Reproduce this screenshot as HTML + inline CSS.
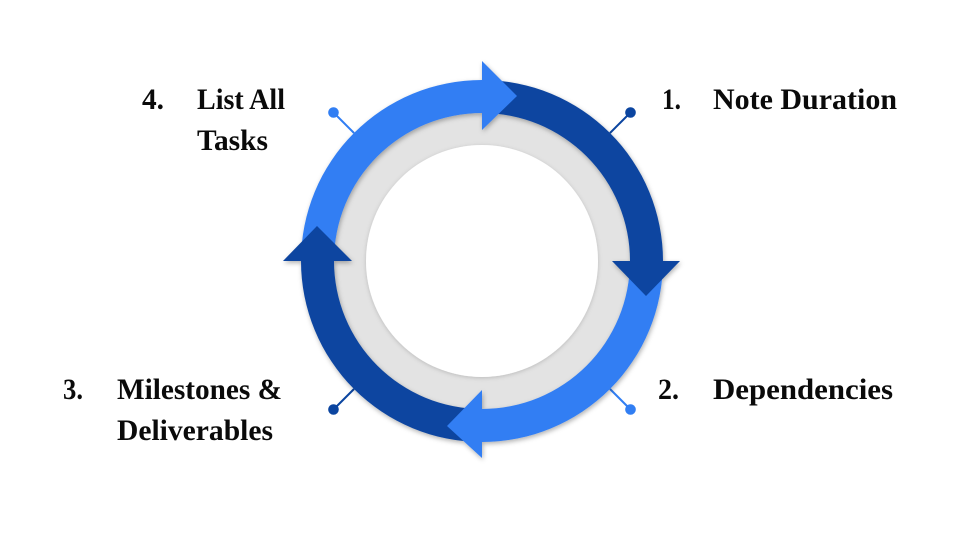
<!DOCTYPE html>
<html>
<head>
<meta charset="utf-8">
<style>
  html, body { margin: 0; padding: 0; background: #ffffff; }
  body { width: 953px; height: 533px; overflow: hidden; }
  svg { display: block; }
  text { font-family: "Liberation Serif", serif; font-weight: bold; font-size: 30px; fill: #0a0a0a; }
</style>
</head>
<body>
<svg width="953" height="533" viewBox="0 0 953 533" xmlns="http://www.w3.org/2000/svg">
  <defs>
    <filter id="sh" x="-20%" y="-20%" width="140%" height="140%">
      <feDropShadow dx="1" dy="2" stdDeviation="2.5" flood-color="#000" flood-opacity="0.3"/>
    </filter>
    <filter id="sh2" x="-20%" y="-20%" width="140%" height="140%">
      <feDropShadow dx="0" dy="1" stdDeviation="2" flood-color="#000" flood-opacity="0.18"/>
    </filter>
  </defs>

  <!-- gray disc + white inner circle -->
  <circle cx="482" cy="261" r="150" fill="#e3e3e3"/>
  <circle cx="482" cy="261" r="116" fill="#ffffff" filter="url(#sh2)"/>

  <!-- pins -->
  <g stroke-width="2">
    <line x1="354" y1="133" x2="333.5" y2="112.5" stroke="#317ef3"/>
    <line x1="610" y1="133" x2="630.5" y2="112.5" stroke="#0b45a0"/>
    <line x1="610" y1="389" x2="630.5" y2="409.5" stroke="#317ef3"/>
    <line x1="354" y1="389" x2="333.5" y2="409.5" stroke="#0b45a0"/>
  </g>
  <circle cx="333.5" cy="112.5" r="5.3" fill="#317ef3"/>
  <circle cx="630.5" cy="112.5" r="5.3" fill="#0b45a0"/>
  <circle cx="630.5" cy="409.5" r="5.3" fill="#317ef3"/>
  <circle cx="333.5" cy="409.5" r="5.3" fill="#0b45a0"/>

  <!-- ring -->
  <g filter="url(#sh)">
    <!-- bodies -->
    <path d="M301,261 A181,181 0 0 1 482,80 L482,113 A148,148 0 0 0 334,261 Z" fill="#317ef3"/>
    <path d="M482,80 A181,181 0 0 1 663,261 L630,261 A148,148 0 0 0 482,113 Z" fill="#0b45a0"/>
    <path d="M663,261 A181,181 0 0 1 482,442 L482,409 A148,148 0 0 0 630,261 Z" fill="#317ef3"/>
    <path d="M482,442 A181,181 0 0 1 301,261 L334,261 A148,148 0 0 0 482,409 Z" fill="#0b45a0"/>
    <!-- heads -->
    <polygon points="482,61 482,130 517,96" fill="#317ef3"/>
    <polygon points="680,261 612,261 646,296" fill="#0b45a0"/>
    <polygon points="482,458 482,390 447,426" fill="#317ef3"/>
    <polygon points="283,261 352,261 317,226" fill="#0b45a0"/>
  </g>

  <!-- labels -->
  <text x="142" y="109" textLength="22" lengthAdjust="spacingAndGlyphs">4.</text>
  <text x="197" y="109" textLength="88" lengthAdjust="spacingAndGlyphs">List All</text>
  <text x="197" y="150" textLength="71" lengthAdjust="spacingAndGlyphs">Tasks</text>

  <text x="662" y="109" textLength="19" lengthAdjust="spacingAndGlyphs">1.</text>
  <text x="713" y="109" textLength="184" lengthAdjust="spacingAndGlyphs">Note Duration</text>

  <text x="658" y="399" textLength="21" lengthAdjust="spacingAndGlyphs">2.</text>
  <text x="713" y="399" textLength="180" lengthAdjust="spacingAndGlyphs">Dependencies</text>

  <text x="63" y="399" textLength="20" lengthAdjust="spacingAndGlyphs">3.</text>
  <text x="117" y="399" textLength="165" lengthAdjust="spacingAndGlyphs">Milestones &amp;</text>
  <text x="117" y="440" textLength="156" lengthAdjust="spacingAndGlyphs">Deliverables</text>
</svg>
</body>
</html>
